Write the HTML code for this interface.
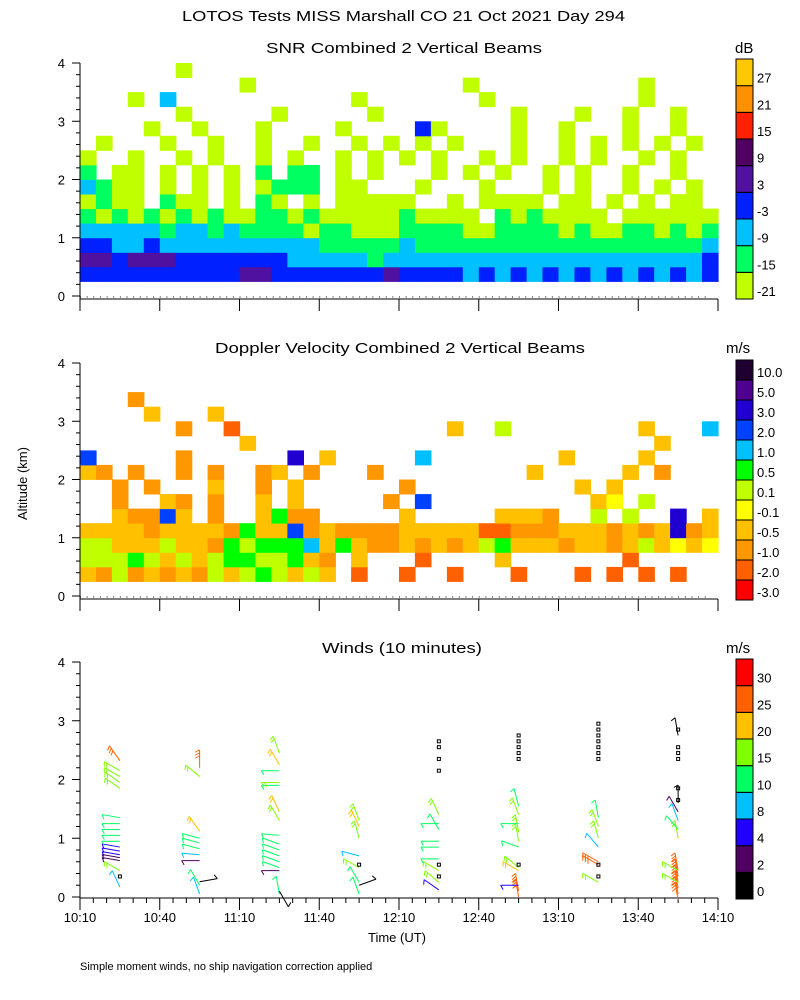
<!DOCTYPE html>
<html><head><meta charset="utf-8"><style>
html,body{margin:0;padding:0;background:#fff;}
svg{display:block;font-family:"Liberation Sans",sans-serif;}
text{fill:#000;}
</style></head><body>
<svg id="chart" width="800" height="1000" viewBox="0 0 800 1000" xmlns="http://www.w3.org/2000/svg">
<text x="182" y="21" font-size="15" textLength="443" lengthAdjust="spacingAndGlyphs">LOTOS Tests MISS Marshall CO  21 Oct 2021 Day 294</text>
<text x="266" y="53" font-size="15" textLength="276" lengthAdjust="spacingAndGlyphs">SNR Combined 2 Vertical Beams</text>
<text x="215" y="353" font-size="15" textLength="370" lengthAdjust="spacingAndGlyphs">Doppler Velocity Combined 2 Vertical Beams</text>
<text x="322" y="653" font-size="15" textLength="160" lengthAdjust="spacingAndGlyphs">Winds (10 minutes)</text>
<text x="735" y="53" font-size="15">dB</text>
<text x="726" y="353" font-size="15">m/s</text>
<text x="726" y="653" font-size="15">m/s</text>
<text x="0" y="0" font-size="13" transform="translate(27,520) rotate(-90)">Altitude (km)</text>
<text x="368" y="942" font-size="13">Time (UT)</text>
<text x="80" y="970" font-size="11">Simple moment winds, no ship navigation correction applied</text>
<g id="g"></g>
</svg>
<script>
// ---- data ----
const snrColors = ["#c0ff00","#00ff60","#00c0ff","#0020ff","#5010a0","#500060","#ff2000","#ff9000","#ffc800"];
const snrLabels = ["-21","-15","-9","-3","3","9","15","21","27"];
// rows bottom (0.25-0.5 km) to top (3.75-4.0 km), 40 columns of 6 min from 10:10
const snrRows = [
"3333333333443333333433332323232323232323",
"4434443333333222221222222222222222222223",
"3322322222222221111121111111111111111112",
"2222212212111101100011110011110100110101",
"1010101010011010000010000.1010000.000000",
"0100.100.0.10.0.00000..0.0000.00.0.0.00.",
"2100.0.0.0.0111.00...0...0...0.0..0.0.0.",
"1.00.0.0.0.1.11.0.0...0.0.0..0.0..0..0.",
"0..0..0.0..0.0..0.0.0.0..0.0..0.0..0.0.",
".0...0..0..0..0..0.0.0.0...0..0.0.0.0.0",
"....0..0...0....0....30....0..0...0..0..",
"......0.....0.....0........0...0..0..0..",
"...0.2...........0.......0.........0....",
"..........0.............0..........0....",
"......0................................."
];
const dopColors = ["#ff0000","#ff6000","#ff9800","#ffc000","#ffff00","#c0ff00","#00ff00","#00c0ff","#0040ff","#2000d0","#500090","#200030"];
const dopLabels = ["-3.0","-2.0","-1.0","-0.5","-0.1","0.1","0.5","1.0","2.0","3.0","5.0","10.0"];
const dopRows = [
"3252323253565353.1..1..1...1...1.1.1.1..",
"5556535356655632.3...1....3.......1.....1",
"5533353326566673632232323563332332353434",
"3333233332633823222233333112223332323923",
"..32283.2..3622.....3.....3332..5.5..9.3",
"..2..32.2..3.3.....2.8..........34.5....",
"..2.2...3..2.3......2..........3.3......",
"32.2..2.2..23.2...2.........3.....3.2...",
"8.....2......9.3.....7........3....3....",
"..........3.........................3...",
"......2..1.............3..5........3...7",
"....3...3...............................",
"...2...................................."
];
const windColors = ["#000000","#500060","#2000ff","#00c0ff","#00ff60","#80ff00","#ffc000","#ff6000","#ff0000"];
const windLabels = ["0","2","4","8","10","15","20","25","30"];
const windBreaks = [0,2,4,8,10,15,20,25,30];
const windTimes = [15,45,75,105,135,165,195,225]; // minutes after 10:10
const windAlts = [
[0.17,0.45,0.62,0.67,0.72,0.78,0.85,0.95,1.05,1.15,1.25,1.35,1.85,1.95,2.05,2.15,2.32],
[0.05,0.2,0.26,0.62,0.72,0.82,0.92,1.0,1.12,2.05,2.2],
[0.05,0.1,0.45,0.5,0.6,0.7,0.8,0.9,1.05,1.3,1.45,1.9,1.95,2.15,2.25,2.45],
[0.05,0.2,0.25,0.5,0.7,1.0,1.2,1.3],
[0.12,0.25,0.45,0.65,0.85,0.95,1.15,1.25,1.4],
[0.0,0.1,0.2,0.45,0.5,0.85,0.95,1.1,1.25,1.4,1.55],
[0.25,0.55,0.6,0.85,1.0,1.2,1.35],
[-0.05,0.05,0.15,0.25,0.35,0.45,0.25,0.45,1.0,1.15,1.3,1.45,1.6,2.75]
];
const windSpeeds = [
[9,16,3,3,5,5,5,12,12,12,12,12,16,16,16,16,26],
[9,12,1,3,8,12,12,12,22,16,26],
[12,1,3,12,12,12,12,12,12,16,22,12,16,12,22,16],
[12,1,12,16,9,16,22,16],
[5,16,16,12,12,12,12,12,16],
[26,26,5,22,16,12,16,16,12,16,12],
[16,26,26,9,16,16,12],
[26,26,26,26,26,26,16,16,16,12,9,3,1,1]
];
const windDirs = [
[115,150,170,170,170,170,170,180,180,180,180,170,145,145,150,150,125],
[110,120,10,180,175,165,165,165,125,140,90],
[100,-60,180,160,160,160,160,160,175,120,115,180,180,180,120,110],
[110,20,120,150,165,105,115,110],
[145,140,150,180,180,180,120,180,115],
[100,100,180,150,140,160,100,100,180,110,105],
[150,150,150,130,105,110,100],
[100,100,100,100,100,100,150,150,100,130,110,120,90,100]
];
const missAlts = [[0.35],[],[],[0.55],[0.35,0.55,2.15,2.35,2.55,2.65],[0.55,2.35,2.45,2.55,2.65,2.75],[0.35,0.55,2.35,2.45,2.55,2.65,2.75,2.85,2.95],[1.65,1.85,2.35,2.45,2.55,2.85]];
const xTickLabels = ["10:10","10:40","11:10","11:40","12:10","12:40","13:10","13:40","14:10"];
const yTickLabels = ["0","1","2","3","4"];

// ---- layout ----
const NS="http://www.w3.org/2000/svg";
const G=document.getElementById('g');
const X0=80, X1=718;
const xs = m => X0 + (X1-X0)*m/240;
const panels=[{top:63,bot:296,name:'snr'},{top:363,bot:596,name:'doppler'},{top:662,bot:897,name:'winds'}];
function ys(p,a){return p.bot-(p.bot-p.top)*a/4;}
function mk(tag,at,parent){const e=document.createElementNS(NS,tag);for(const k in at)e.setAttribute(k,at[k]);(parent||G).appendChild(e);return e;}

function drawGrid(p,rows,colors,nm){
  const g=mk('g',{});
  
  
  const cw=(X1-X0)/40;
  rows.forEach((r,ri)=>{
    const a0=0.25+ri*0.25;
    for(let c=0;c<40;c++){
      const ch=r.charAt(c); if(!ch||ch==='.')continue;
      const k=parseInt(ch,16); if(isNaN(k))continue;
      const y1=ys(p,a0+0.25), y0=ys(p,a0);
      const rc=mk('rect',{x:(xs(c*6)).toFixed(1),y:y1.toFixed(1),width:(cw+0.6).toFixed(1),height:(y0-y1+0.4).toFixed(1),fill:colors[k]},g);
      
      
    }
  });
}
drawGrid(panels[0],snrRows,snrColors,'snr');
drawGrid(panels[1],dopRows,dopColors,'doppler');

function drawAxes(p,pi){
  const ax=mk('g',{stroke:'#000','stroke-width':1,fill:'none'});
  
  
  const base = pi<2 ? p.bot+3 : p.bot+1;
  mk('line',{x1:X0,y1:p.top,x2:X0,y2:base},ax);
  mk('line',{x1:X0,y1:base,x2:X1,y2:base},ax);
  for(let i=0;i<=20;i++){const y=ys(p,i*0.2);const L=(i%5===0)?8:4;mk('line',{x1:X0-L,y1:y,x2:X0,y2:y},ax);}
  for(let m=0;m<=240;m+= (pi<2?30:5)){const x=xs(m);const L=(m%30===0)?12:5;mk('line',{x1:x,y1:base,x2:x,y2:base+L},ax);}
  if(pi<2){for(let m=0;m<236;m+=2.5){mk('rect',{x:xs(m),y:p.bot+0.5,width:1,height:1,fill:'#000',stroke:'none'},ax);}}
  yTickLabels.forEach((t,i)=>{const tx=mk('text',{x:X0-15,y:ys(p,i)+5,'font-size':13,'text-anchor':'end'});tx.textContent=t;
    
    });
  if(pi===2){xTickLabels.forEach((t,i)=>{const tx=mk('text',{x:xs(i*30),y:922,'font-size':13,'text-anchor':'middle'});tx.textContent=t;
    
    });}
}
panels.forEach(drawAxes);

function colorbar(top,bot,colors,labels,nm){
  const g=mk('g',{});
  
  
  const n=colors.length, h=(bot-top)/n;
  colors.forEach((c,i)=>{const r=mk('rect',{x:736,y:bot-(i+1)*h,width:17,height:h,fill:c,stroke:'#000','stroke-width':1},g);
    
    });
  labels.forEach((t,i)=>{const tx=mk('text',{x:757,y:bot-i*h-3,'font-size':13},g);tx.textContent=t;
    
    });
}
colorbar(59,299,snrColors,snrLabels,'snr');
colorbar(360,600,dopColors,dopLabels,'doppler');
colorbar(659,899,windColors,windLabels,'winds');

// wind barbs
function spdColor(s){let k=0;for(let i=0;i<windBreaks.length;i++)if(s>=windBreaks[i])k=i;return windColors[k];}
const p3=panels[2];
windTimes.forEach((t,pi)=>{
  const bx=xs(t);
  windAlts[pi].forEach((a,j)=>{
    const s=windSpeeds[pi][j], d=windDirs[pi][j]*Math.PI/180, col=spdColor(s);
    const by=ys(p3,a), L=18;
    const ex=bx+L*Math.cos(d), ey=by-L*Math.sin(d);
    const b=mk('g',{stroke:col,'stroke-width':1,fill:'none'});
    
    
    mk('line',{x1:bx,y1:by,x2:ex,y2:ey},b);
    const nf=Math.min(3,Math.max(1,Math.round(s/10)));
    const fa=d-Math.PI/3;
    for(let f=0;f<nf;f++){
      const px=ex-(f*3)*Math.cos(d), py=ey+(f*3)*Math.sin(d);
      const fl=5;
      mk('line',{x1:px,y1:py,x2:px+fl*Math.cos(fa+Math.PI),y2:py-fl*Math.sin(fa+Math.PI)},b);
    }
  });
  missAlts[pi].forEach(a=>{
    const r=mk('rect',{x:bx-1.5,y:ys(p3,a)-1.5,width:3,height:3,fill:'none',stroke:'#000','stroke-width':1});
    
    
  });
});
</script>
</body></html>
